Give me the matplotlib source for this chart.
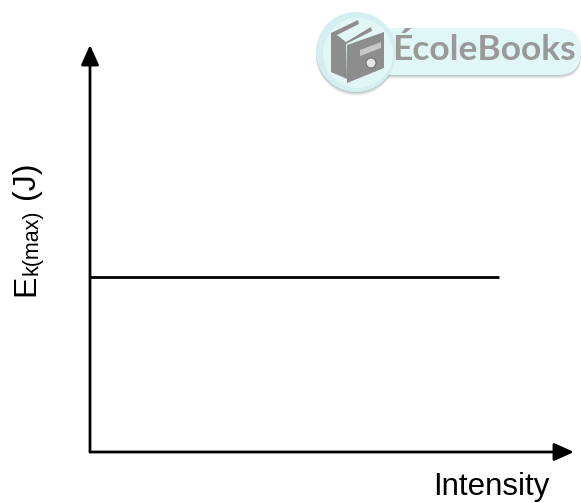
import matplotlib.pyplot as plt
from matplotlib.patches import Circle, FancyBboxPatch, Polygon

plt.rcParams['font.family'] = ['Liberation Sans', 'DejaVu Sans']

# graph values, axes run 0-100 with no scale printed
intensity = [0, 84.5]
ek_max = [43, 43]

W, H = 581, 503
fig = plt.figure(figsize=(W / 100, H / 100), dpi=100)

# logo layer, pixel coords with y going down
bg = fig.add_axes([0, 0, 1, 1])
bg.set_xlim(0, W)
bg.set_ylim(H, 0)
bg.axis('off')

for off, a in [(4, 0.10), (3, 0.15), (2, 0.25), (1, 0.3)]:
    bg.add_patch(FancyBboxPatch((370, 28 + off), 211, 47, boxstyle='round,pad=0,rounding_size=23',
                                fc='#9aa5a5', ec='none', alpha=a))
    bg.add_patch(Circle((356, 52 + off), 40, fc='#9aa5a5', ec='none', alpha=a))
bg.add_patch(FancyBboxPatch((370, 28), 211, 47, boxstyle='round,pad=0,rounding_size=23',
                            fc='#e1f6f6', ec='none'))
bg.add_patch(Circle((356, 52), 40, fc='#d3eff0', ec='none'))
bg.add_patch(Circle((358, 53), 35, fc='#e3f6f6', ec='none'))

book_grey = '#8d8d8d'
back_book = [(331, 33), (358, 20), (359, 24), (337, 35), (346, 42), (347, 79), (331, 72)]
mid_book = [(346, 42), (371, 27), (372, 31), (352, 41), (346, 44)]
front_book = [(347, 45), (384, 32), (384, 68), (347, 83)]
bg.add_patch(Polygon(back_book, fc=book_grey, ec='none'))
bg.add_patch(Polygon(mid_book, fc=book_grey, ec='none'))
bg.add_patch(Polygon(front_book, fc=book_grey, ec='none'))
bg.add_patch(Polygon([(360, 50), (381, 42), (381, 48), (360, 56)], fc='#c9c9c9', ec='none'))
bg.add_patch(Circle((371, 63), 5, fc='#e6e6e6', ec='#6f6f6f', lw=0.8))
bg.text(392, 60, 'ÉcoleBooks', family=['Lato', 'DejaVu Sans'], fontweight='bold',
        fontsize=25.5, color='#999999', ha='left', va='baseline')

# graph
ax = fig.add_axes([90 / W, 1 - 452 / H, 484 / W, 407 / H])
ax.patch.set_alpha(0)
ax.set_xlim(0, 100)
ax.set_ylim(0, 100)
ax.axis('off')
ax.plot(intensity, ek_max, color='black', lw=2.0, solid_capstyle='butt')

arrow = dict(arrowstyle='-|>,head_length=0.6,head_width=0.27', color='black', lw=2.0,
             mutation_scale=20, shrinkA=0, shrinkB=0)
ax.annotate('', xy=(100, 0), xytext=(0, 0), arrowprops=arrow, annotation_clip=False)
ax.annotate('', xy=(0, 100), xytext=(0, 0), arrowprops=arrow, annotation_clip=False)

# labels are placed piece by piece so the subscript sits like the original
bg.text(550, 495.5, 'Intensity', fontsize=22.5, ha='right', va='baseline', color='black')
rot = dict(rotation=90, rotation_mode='anchor', ha='left', va='baseline', color='black')
bg.text(34, 296, 'E', fontsize=23, **rot)
bg.text(38, 275, 'k(max)', fontsize=15.5, **rot)
bg.text(34, 199, '(J)', fontsize=23, **rot)

fig.savefig('out.png', dpi=100)
